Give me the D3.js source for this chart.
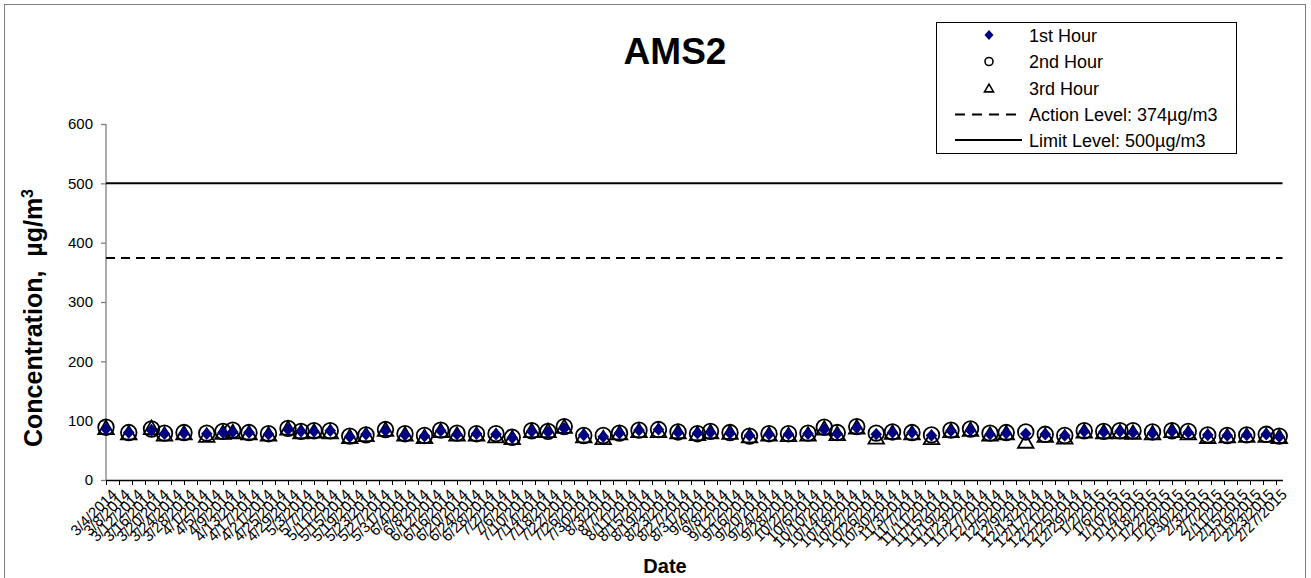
<!DOCTYPE html>
<html>
<head>
<meta charset="utf-8">
<script src="https://cdn.jsdelivr.net/npm/d3@7"></script>
<style>
body { margin: 0; background: #fff; }
text { font-family: "Liberation Sans", Arial, sans-serif; }
</style>
</head>
<body>
<script>
// sampling dates (m/d/yyyy)
var dates = ["3/4/2014","3/11/2014","3/18/2014","3/22/2014","3/28/2014","4/4/2014","4/9/2014","4/12/2014","4/17/2014","4/23/2014",
  "4/29/2014","5/3/2014","5/7/2014","5/12/2014","5/18/2014","5/23/2014","5/29/2014","6/4/2014","6/10/2014","6/15/2014",
  "6/20/2014","6/26/2014","7/2/2014","7/7/2014","7/13/2014","7/18/2014","7/23/2014","7/29/2014","8/4/2014","8/9/2014",
  "8/15/2014","8/21/2014","8/27/2014","9/2/2014","9/6/2014","9/12/2014","9/18/2014","9/24/2014","9/30/2014","10/6/2014",
  "10/11/2014","10/15/2014","10/21/2014","10/27/2014","11/1/2014","11/7/2014","11/13/2014","11/19/2014","11/25/2014","12/1/2014",
  "12/6/2014","12/12/2014","12/18/2014","12/24/2014","12/30/2014","1/5/2015","1/10/2015","1/14/2015","1/20/2015","1/26/2015",
  "1/31/2015","2/6/2015","2/12/2015","2/18/2015","2/24/2015","2/28/2015"];

var hour1 = [86,80,84,78,79,78,80,81,80,77, 85,82,82,83,73,77,83,76,74,83,
  77,78,77,71,82,81,87,76,73,79, 84,85,80,79,80,79,75,77,77,78,
  85,78,88,77,80,80,75,83,84,77, 79,78,77,75,82,81,82,80,79,82,
  80,76,75,76,77,73];
var hour2 = [89,80,86,79,80,79,82,84,80,78, 87,82,83,83,74,76,85,78,75,84,
  79,78,78,72,83,82,90,75,75,79, 84,85,81,78,82,80,74,78,78,79,
  89,80,90,79,81,80,76,84,86,79, 80,81,77,75,83,82,83,83,81,83,
  82,76,75,76,77,74];
var hour3 = [87,78,87,76,78,74,79,80,78,76, 86,80,81,80,72,75,84,76,72,82,
  76,76,73,70,82,82,89,73,70,78, 82,82,80,77,80,79,73,76,75,76,
  86,77,88,71,79,78,70,82,84,76, 78,64,74,71,81,80,80,79,78,82,
  78,72,73,74,74,72];

var actionLevel = 374;
var limitLevel = 500;
var yTicks = [0,100,200,300,400,500,600];

var W = 1311, H = 578;
var parse = d3.utcParse("%m/%d/%Y");
var fmt = d3.utcFormat("%-m/%-d/%Y");
var start = parse("3/4/2014"), end = parse("3/1/2015");

var svg = d3.select("body").append("svg").attr("width", W).attr("height", H);

// chart border
svg.append("rect").attr("x", 4.5).attr("y", 4.5).attr("width", 1301).attr("height", 590)
  .attr("fill", "#fff").attr("stroke", "#808080").attr("stroke-width", 1);

var x = d3.scaleUtc().domain([start, end]).range([106, 106 + 362 * 3.25]);
var y = d3.scaleLinear().domain([0, 600]).range([480, 124]);

// y axis
var yAxis = svg.append("g").attr("transform", "translate(106,0)")
  .call(d3.axisLeft(y).tickValues(yTicks).tickSize(5).tickPadding(8));
yAxis.select(".domain").attr("stroke", "#808080").attr("stroke-width", 1.3).attr("d", "M0,480V124");
yAxis.selectAll(".tick line").attr("stroke", "#808080").attr("stroke-width", 1.3);
yAxis.selectAll("text").attr("font-size", 15).attr("fill", "#000")
  .attr("font-family", "'Liberation Sans', Arial, sans-serif");

// x axis, tick every 4 days
var xTicks = d3.range(0, 361, 4).map(function(d){ return d3.utcDay.offset(start, d); });
var xAxis = svg.append("g").attr("transform", "translate(0,480)")
  .call(d3.axisBottom(x).tickValues(xTicks).tickFormat(fmt).tickSize(5).tickSizeOuter(0));
xAxis.select(".domain").attr("stroke", "#000").attr("stroke-width", 1.3);
xAxis.selectAll(".tick line").attr("stroke", "#000");
xAxis.selectAll("text")
  .attr("font-size", 15).attr("fill", "#000")
  .attr("font-family", "'Liberation Sans', Arial, sans-serif")
  .attr("text-anchor", "end")
  .attr("transform", "translate(4,8) rotate(-45)")
  .attr("x", 0).attr("y", 0).attr("dy", "0.7em");

// reference lines
svg.append("line").attr("x1", 106).attr("x2", x(end)).attr("y1", y(limitLevel)).attr("y2", y(limitLevel))
  .attr("stroke", "#000").attr("stroke-width", 2);
svg.append("line").attr("x1", 106).attr("x2", x(end)).attr("y1", y(actionLevel)).attr("y2", y(actionLevel))
  .attr("stroke", "#000").attr("stroke-width", 2).attr("stroke-dasharray", "9,6");

var pts = dates.map(function(d, i){ return {date: parse(d), h1: hour1[i], h2: hour2[i], h3: hour3[i]}; });

function diamond(w, h) { return "M0," + (-h) + "L" + w + ",0L0," + h + "L" + (-w) + ",0Z"; }
function triangle(s) { var hh = s * Math.sqrt(3) / 2; return "M0," + (-hh / 2 - 1) + "L" + (s / 2) + "," + (hh / 2 - 1) + "L" + (-s / 2) + "," + (hh / 2 - 1) + "Z"; }

// 2nd hour circles
svg.append("g").selectAll("circle").data(pts).enter().append("circle")
  .attr("cx", function(d){ return x(d.date); })
  .attr("cy", function(d){ return y(d.h2); })
  .attr("r", 7.8).attr("fill", "none").attr("stroke", "#000").attr("stroke-width", 1.8);

// 3rd hour triangles
svg.append("g").selectAll("path").data(pts).enter().append("path")
  .attr("d", triangle(15.5))
  .attr("transform", function(d){ return "translate(" + x(d.date) + "," + y(d.h3) + ")"; })
  .attr("fill", "none").attr("stroke", "#000").attr("stroke-width", 1.8);

// 1st hour diamonds
svg.append("g").selectAll("path").data(pts).enter().append("path")
  .attr("d", diamond(5.8, 6.3))
  .attr("transform", function(d){ return "translate(" + x(d.date) + "," + y(d.h1) + ")"; })
  .attr("fill", "#000080");

// titles
svg.append("text").attr("x", 675).attr("y", 64).attr("text-anchor", "middle")
  .attr("font-size", 37).attr("font-weight", "bold").text("AMS2");
svg.append("text").attr("x", 665).attr("y", 573).attr("text-anchor", "middle")
  .attr("font-size", 20).attr("font-weight", "bold").text("Date");
var yt = svg.append("text").attr("transform", "translate(42,318) rotate(-90)")
  .attr("text-anchor", "middle").attr("font-size", 25).attr("font-weight", "bold");
yt.append("tspan").text("Concentration,\u00a0\u00a0µg/m");
yt.append("tspan").attr("font-size", 16).attr("dy", -9).text("3");

// legend
var lg = svg.append("g");
lg.append("rect").attr("x", 936.5).attr("y", 22.5).attr("width", 300).attr("height", 131)
  .attr("fill", "#fff").attr("stroke", "#000").attr("stroke-width", 1);
var rows = [35, 61.5, 88, 114.5, 140];
var labels = ["1st Hour", "2nd Hour", "3rd Hour", "Action Level: 374µg/m3", "Limit Level: 500µg/m3"];
lg.selectAll("text.lab").data(labels).enter().append("text").attr("class", "lab")
  .attr("x", 1029).attr("y", function(d, i){ return rows[i] + 6.5; })
  .attr("font-size", 18).text(function(d){ return d; });
lg.append("path").attr("d", diamond(4.5, 5))
  .attr("transform", "translate(989," + rows[0] + ")").attr("fill", "#000080");
lg.append("circle").attr("cx", 989).attr("cy", rows[1]).attr("r", 4)
  .attr("fill", "none").attr("stroke", "#000").attr("stroke-width", 1.6);
lg.append("path").attr("d", triangle(9))
  .attr("transform", "translate(989," + (rows[2] + 1) + ")")
  .attr("fill", "none").attr("stroke", "#000").attr("stroke-width", 1.6);
lg.append("line").attr("x1", 955).attr("x2", 1019).attr("y1", rows[3]).attr("y2", rows[3])
  .attr("stroke", "#000").attr("stroke-width", 2).attr("stroke-dasharray", "10,7");
lg.append("line").attr("x1", 955).attr("x2", 1022).attr("y1", rows[4]).attr("y2", rows[4])
  .attr("stroke", "#000").attr("stroke-width", 2);
</script>
</body>
</html>
